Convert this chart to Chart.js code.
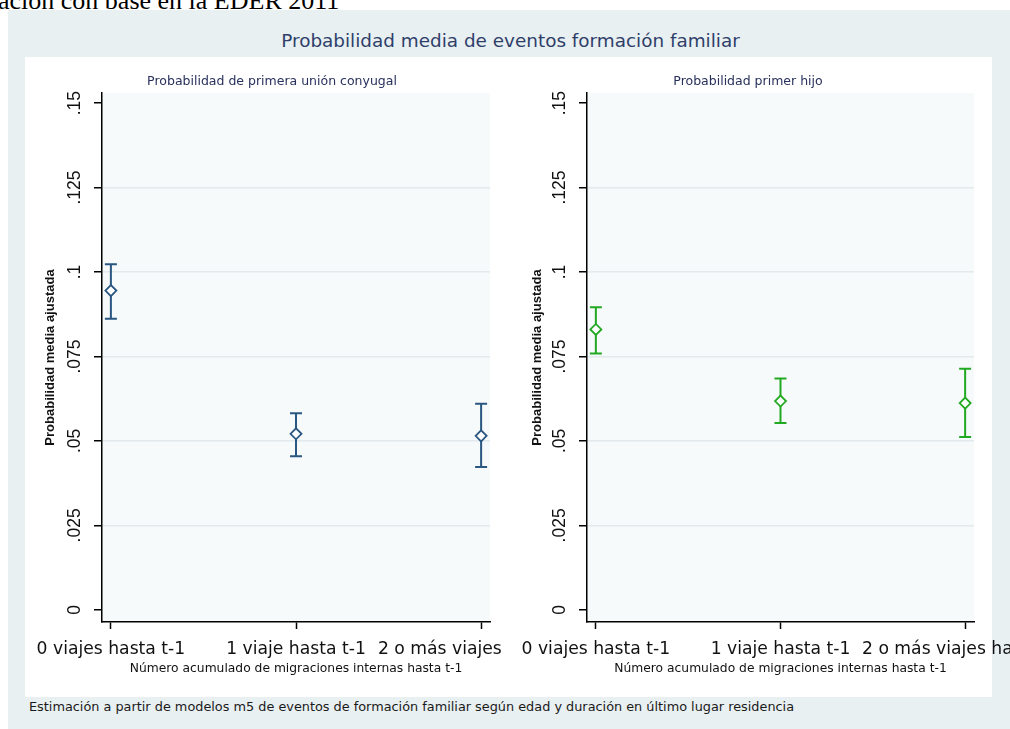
<!DOCTYPE html>
<html>
<head>
<meta charset="utf-8">
<script src="https://cdn.jsdelivr.net/npm/chart.js@4/dist/chart.umd.min.js"></script>
<style>
  html, body { margin: 0; padding: 0; background: #fff; }
  body { width: 1010px; height: 729px; position: relative; overflow: hidden; }
  #source { position: absolute; left: -2px; top: -12.3px; font: 26px/26px 'Liberation Serif', 'Times New Roman', serif; color: #000; white-space: nowrap; }
  #graph { position: absolute; left: 8px; top: 10px; width: 1100px; height: 760px; background: #e9f0f2; }
  #inner { position: absolute; left: 25px; top: 57px; width: 967px; height: 640px; background: #fff; }
  #main-title { position: absolute; left: 0; width: 1021px; top: 29.5px; text-align: center; font: 18.4px/21px 'DejaVu Sans', sans-serif; color: #2f3f6a; white-space: nowrap; }
  #note { position: absolute; left: 29px; top: 698.5px; font: 12.85px/15px 'DejaVu Sans', sans-serif; color: #1a1a1a; white-space: nowrap; }
  canvas { position: absolute; top: 57px; }
  #union { left: 25px; }
  #child { left: 506px; }
</style>
</head>
<body>
<div id="source">ación con base en la EDER 2011</div>
<div id="graph"></div>
<div id="inner"></div>
<div id="main-title">Probabilidad media de eventos formación familiar</div>
<canvas id="union" width="481" height="640"></canvas>
<canvas id="child" width="534" height="640"></canvas>
<div id="note">Estimación a partir de modelos m5 de eventos de formación familiar según edad y duración en último lugar residencia</div>
<script>
// Categories on the horizontal axis (accumulated internal migrations)
const categories = ['0 viajes hasta t-1', '1 viaje hasta t-1', '2 o más viajes hasta t-1'];

// Vertical axis ticks
const yTickValues = [0, 0.025, 0.05, 0.075, 0.1, 0.125, 0.15];
const yTickLabels = ['0', '.025', '.05', '.075', '.1', '.125', '.15'];

// Adjusted mean probability of first union, with confidence bounds
const unionMean = [0.0945, 0.0521, 0.0515];
const unionLow  = [0.0862, 0.0455, 0.0423];
const unionHigh = [0.1023, 0.0582, 0.0610];

// Adjusted mean probability of first child, with confidence bounds
const childMean = [0.0830, 0.0618, 0.0612];
const childLow  = [0.0759, 0.0553, 0.0512];
const childHigh = [0.0896, 0.0685, 0.0714];

const xAxisTitle = 'Número acumulado de migraciones internas hasta t-1';
const yAxisTitle = 'Probabilidad media ajustada';

// Light fill behind the plotting region
const plotBackground = {
  id: 'plotBackground',
  beforeDraw(chart) {
    const { ctx, chartArea: a } = chart;
    ctx.save();
    ctx.fillStyle = '#f7fafb';
    ctx.fillRect(a.left, a.top, a.right - a.left, a.bottom - a.top);
    ctx.restore();
  }
};

// Capped vertical intervals drawn from each dataset's errLow / errHigh
const errorBars = {
  id: 'errorBars',
  beforeDatasetsDraw(chart) {
    const { ctx, scales: { x, y } } = chart;
    chart.data.datasets.forEach(ds => {
      ctx.save();
      ctx.strokeStyle = ds.borderColor;
      ctx.lineWidth = 2;
      ds.data.forEach((pt, i) => {
        const px = x.getPixelForValue(pt.x);
        const lo = y.getPixelForValue(ds.errLow[i]);
        const hi = y.getPixelForValue(ds.errHigh[i]);
        ctx.beginPath();
        ctx.moveTo(px, lo); ctx.lineTo(px, hi);
        ctx.moveTo(px - 6, lo); ctx.lineTo(px + 6, lo);
        ctx.moveTo(px - 6, hi); ctx.lineTo(px + 6, hi);
        ctx.stroke();
      });
      ctx.restore();
    });
  }
};

function makePanel(id, title, mean, low, high, color, pad, yWidth, yTitlePad) {
  return new Chart(document.getElementById(id), {
    type: 'scatter',
    data: {
      datasets: [{
        data: categories.map((c, i) => ({ x: i, y: mean[i] })),
        errLow: low,
        errHigh: high,
        borderColor: color,
        backgroundColor: '#ffffff',
        pointStyle: 'rectRot',
        pointRadius: 5.5,
        pointBorderWidth: 1.8,
        showLine: false,
        clip: false
      }]
    },
    options: {
      responsive: false,
      animation: false,
      devicePixelRatio: 1,
      layout: { padding: { left: pad.left, right: pad.right, top: 0, bottom: 0 } },
      plugins: {
        legend: { display: false },
        tooltip: { enabled: false },
        title: {
          display: true,
          text: title,
          color: '#28305c',
          font: { family: 'DejaVu Sans', size: 12.5, weight: 'normal' },
          padding: { top: 17.5, bottom: 3.5 }
        }
      },
      scales: {
        x: {
          type: 'linear',
          min: -0.048,
          max: 2.048,
          afterBuildTicks: s => { s.ticks = categories.map((c, i) => ({ value: i })); },
          afterFit: s => { s.height = 75; s.paddingLeft = 0; s.paddingRight = 0; },
          ticks: {
            callback: v => categories[Math.round(v)],
            font: { family: 'DejaVu Sans', size: 17.2 },
            color: '#111',
            padding: 10,
            minRotation: 0,
            maxRotation: 0,
            autoSkip: false
          },
          grid: { color: 'transparent', tickColor: '#000', tickLength: 7, tickWidth: 1.5 },
          border: { color: '#000', width: 1.5 },
          title: {
            display: true,
            text: xAxisTitle,
            color: '#111',
            font: { family: 'DejaVu Sans', size: 12.3 },
            padding: { top: 0, bottom: 20.6 }
          }
        },
        y: {
          type: 'linear',
          min: -0.0036,
          max: 0.153,
          afterBuildTicks: s => { s.ticks = yTickValues.map(v => ({ value: v })); },
          afterFit: s => { s.width = yWidth; s.paddingTop = 0; s.paddingBottom = 0; },
          ticks: {
            callback: (v, i) => yTickLabels[i],
            font: { family: 'Liberation Sans', size: 17.5 },
            color: '#111',
            minRotation: 90,
            maxRotation: 90,
            crossAlign: 'center',
            padding: 2,
            autoSkip: false
          },
          grid: {
            color: c => (c.index === 0 || c.index === yTickValues.length - 1) ? 'transparent' : '#e2eaee',
            lineWidth: 1.5,
            tickColor: '#000',
            tickLength: 8,
            tickWidth: 1.5
          },
          border: { color: '#000', width: 1.5 },
          title: {
            display: true,
            text: yAxisTitle,
            color: '#111',
            font: { family: 'Liberation Sans', size: 13, weight: 'bold' },
            padding: { top: yTitlePad, bottom: 0 }
          }
        }
      }
    },
    plugins: [plotBackground, errorBars]
  });
}

makePanel('union', 'Probabilidad de primera unión conyugal', unionMean, unionLow, unionHigh,
  '#2a5781', { left: 29, right: 16 }, 48, -11.8);
makePanel('child', 'Probabilidad primer hijo', childMean, childLow, childHigh,
  '#22a922', { left: 16, right: 66 }, 65, 7.2);
</script>
</body>
</html>
